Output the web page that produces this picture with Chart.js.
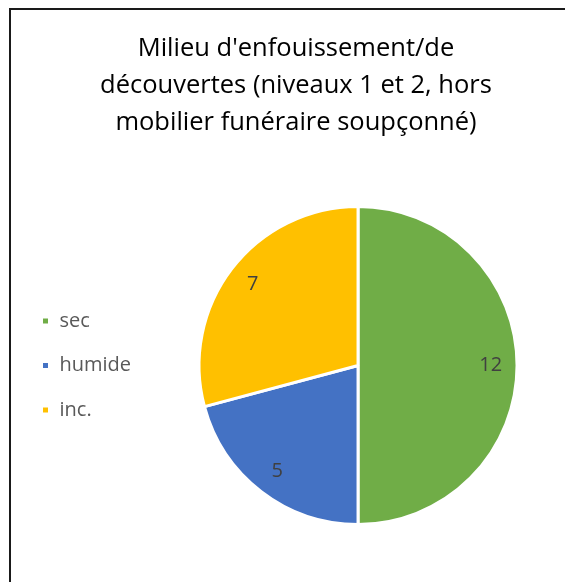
<!DOCTYPE html>
<html>
<head>
<meta charset="utf-8">
<script src="https://cdn.jsdelivr.net/npm/chart.js@4"></script>
<style>
  html, body { margin: 0; padding: 0; background: #fff; overflow: hidden; }
  #wrap { position: relative; width: 565px; height: 582px; overflow: hidden; }
  #frame { position: absolute; left: 9px; top: 8px; width: 700px; height: 700px;
           border-left: 2px solid #1a1a1a; border-top: 2px solid #1a1a1a; }
  canvas { position: absolute; left: 0; top: 0; }
</style>
</head>
<body>
<div id="wrap">
  <div id="frame"></div>
  <canvas id="pieChart" width="575" height="582"></canvas>
</div>
<script>
// Milieu d'enfouissement
const titleLines = ["Milieu d'enfouissement/de", "découvertes (niveaux 1 et 2, hors", "mobilier funéraire soupçonné)"];
const categories = ['sec', 'humide', 'inc.'];
const counts = [12, 5, 7];
const sliceColors = ['#70AD47', '#4472C4', '#FFC000'];

// draws the count inside each slice
const sliceLabels = {
  id: 'sliceLabels',
  afterDatasetsDraw(chart) {
    const c = chart.ctx;
    const meta = chart.getDatasetMeta(0);
    c.save();
    c.font = '20px "Open Sans"';
    c.fillStyle = '#404040';
    c.textAlign = 'center';
    c.textBaseline = 'middle';
    meta.data.forEach((arc, i) => {
      const p = arc.getProps(['x', 'y', 'startAngle', 'endAngle', 'outerRadius']);
      const mid = (p.startAngle + p.endAngle) / 2;
      const r = p.outerRadius * 0.835;
      c.fillText(String(counts[i]), p.x + Math.cos(mid) * r, p.y + Math.sin(mid) * r);
    });
    c.restore();
  }
};

new Chart(document.getElementById('pieChart'), {
  type: 'pie',
  data: {
    labels: categories,
    datasets: [{
      data: counts,
      backgroundColor: sliceColors,
      borderColor: '#ffffff',
      borderWidth: 3
    }]
  },
  options: {
    responsive: false,
    animation: false,
    layout: {padding: {left: 17, right: 0, top: 0, bottom: 56}},
    plugins: {
      title: {
        display: true,
        text: titleLines,
        color: '#000000',
        font: {family: 'Open Sans', size: 25.5, weight: 'normal', lineHeight: 37 / 25.5},
        padding: {top: 30, bottom: 64}
      },
      legend: {
        position: 'left',
        fullSize: false,
        labels: {
          boxWidth: 8,
          boxHeight: 8,
          padding: 24.5,
          color: '#595959',
          font: {family: 'Open Sans', size: 20}
        }
      },
      tooltip: {enabled: false}
    }
  },
  plugins: [sliceLabels]
});
</script>
</body>
</html>
